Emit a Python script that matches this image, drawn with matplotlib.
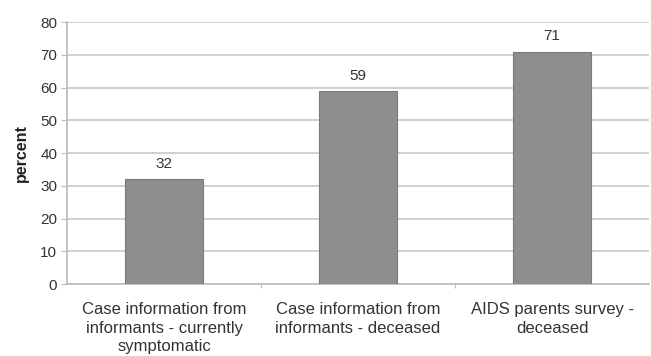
import matplotlib.pyplot as plt

plt.rcParams['font.family'] = ['Liberation Sans', 'DejaVu Sans']

categories = ['Case information from\ninformants - currently\nsymptomatic',
              'Case information from\ninformants - deceased',
              'AIDS parents survey -\ndeceased']
values = [32, 59, 71]

fig = plt.figure(figsize=(6.51, 3.56), dpi=100)
ax = fig.add_axes([0.103, 0.202, 0.894, 0.736])

x = range(len(values))
bars = ax.bar(x, values, width=0.4, color='#8e8e8e', edgecolor='#7a7a7a', linewidth=0.8, zorder=3)
for b, v in zip(bars, values):
    ax.text(b.get_x() + b.get_width() / 2, v + 2.5, str(v), ha='center', va='bottom',
            fontsize=11, color='#333333')

ax.set_xlim(-0.5, len(values) - 0.5)
ax.set_ylim(0, 80)
ax.set_yticks(range(0, 81, 10))
ax.yaxis.grid(True, color='#c8c8c8', linewidth=1.2)
ax.set_axisbelow(True)

# separators between categories as major ticks, names on minor ticks
ax.set_xticks([0.5, 1.5], minor=False)
ax.set_xticklabels([])
ax.set_xticks(list(x), minor=True)
ax.set_xticklabels(categories, minor=True, fontsize=12, color='#333333', linespacing=1.3)
ax.tick_params(axis='x', which='minor', length=0, pad=13)
ax.tick_params(axis='x', which='major', length=3, color='#bbbbbb', direction='out')
ax.tick_params(axis='y', length=4, color='#bbbbbb', labelsize=11, labelcolor='#333333', pad=3)

for side in ['top', 'right']:
    ax.spines[side].set_visible(False)
for side in ['left', 'bottom']:
    ax.spines[side].set_color('#bbbbbb')
    ax.spines[side].set_linewidth(1.2)

ax.set_ylabel('percent', fontsize=11.5, fontweight='bold', color='#222222', labelpad=8)

fig.savefig('out.png', dpi=100)
